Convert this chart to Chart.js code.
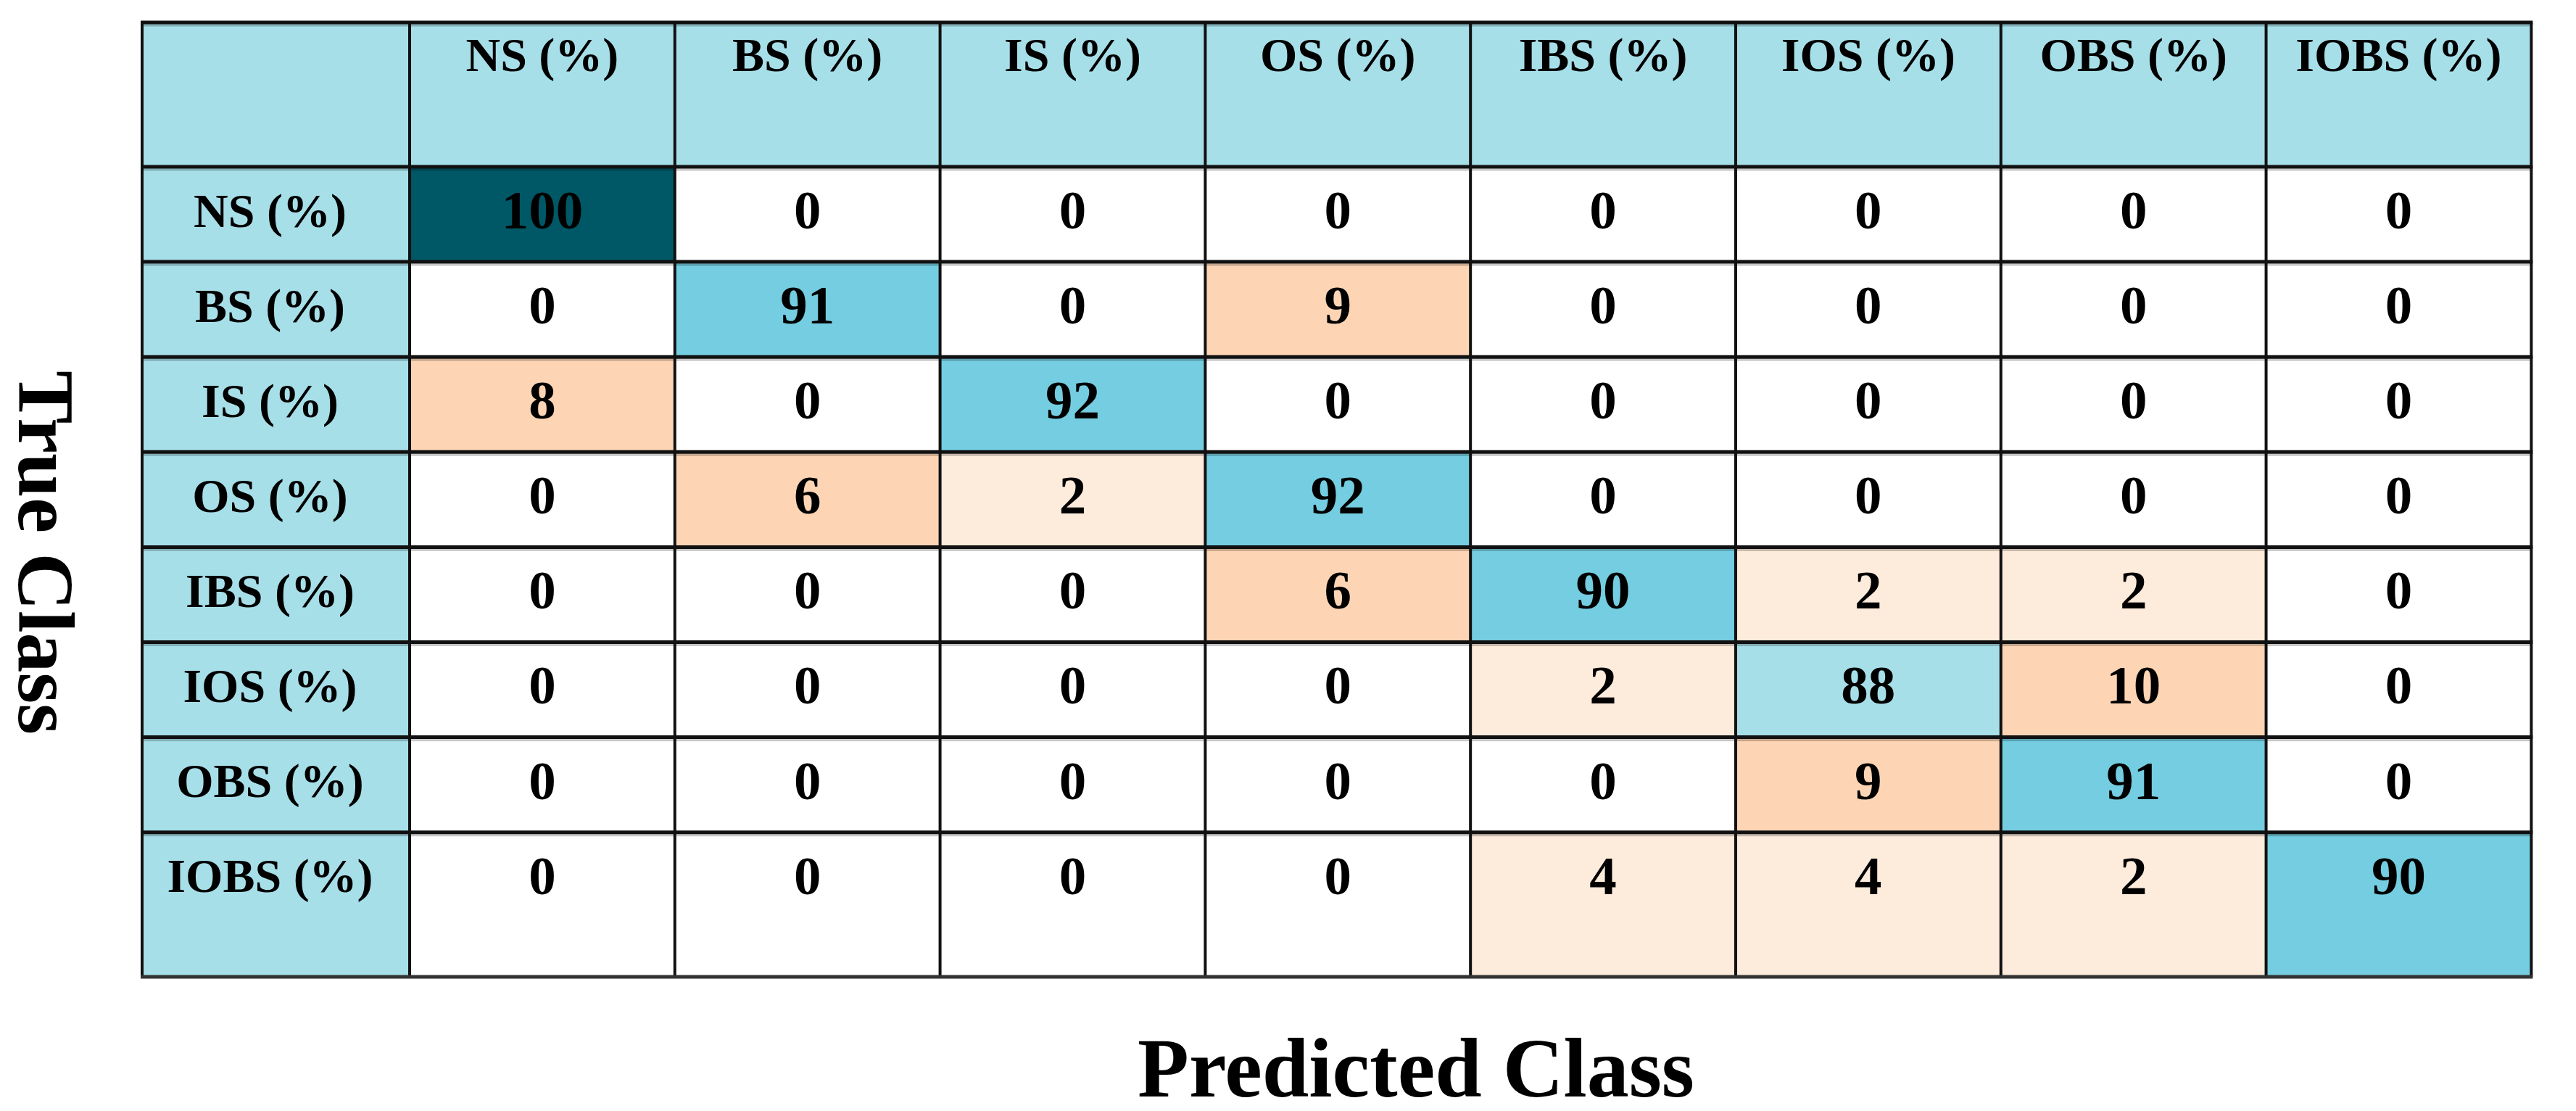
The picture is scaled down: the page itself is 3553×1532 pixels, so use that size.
<!DOCTYPE html>
<html>
<head>
<meta charset="utf-8">
<script src="https://cdn.jsdelivr.net/npm/chart.js@4.4.1/dist/chart.umd.min.js"></script>
<style>
  html, body { margin: 0; padding: 0; background: #fff; overflow: hidden; }
  #cmChart { display: block; width: 3553px; height: 1532px; }
</style>
</head>
<body>
<canvas id="cmChart" width="3553" height="1532"></canvas>
<script>
const predLabels = ['NS (%)', 'BS (%)', 'IS (%)', 'OS (%)', 'IBS (%)', 'IOS (%)', 'OBS (%)', 'IOBS (%)'];
const trueLabels = ['NS (%)', 'BS (%)', 'IS (%)', 'OS (%)', 'IBS (%)', 'IOS (%)', 'OBS (%)', 'IOBS (%)'];

// one row per true class, columns follow predLabels
const rowNS   = [100, 0, 0, 0, 0, 0, 0, 0];
const rowBS   = [0, 91, 0, 9, 0, 0, 0, 0];
const rowIS   = [8, 0, 92, 0, 0, 0, 0, 0];
const rowOS   = [0, 6, 2, 92, 0, 0, 0, 0];
const rowIBS  = [0, 0, 0, 6, 90, 2, 2, 0];
const rowIOS  = [0, 0, 0, 0, 2, 88, 10, 0];
const rowOBS  = [0, 0, 0, 0, 0, 9, 91, 0];
const rowIOBS = [0, 0, 0, 0, 4, 4, 2, 90];
const matrix = [rowNS, rowBS, rowIS, rowOS, rowIBS, rowIOS, rowOBS, rowIOBS];

const xTitle = 'Predicted Class';
const yTitle = 'True Class';

const FONT = '"Liberation Serif", "Times New Roman", serif';
const headFill = '#a7dfe9';
const labelColWidth = 369;
const headerHeight = 199;
const lastRowExtra = 0.52; // bottom row of the table is taller

function cellColor(v) {
    if (v === 0) return '#ffffff';
    if (v < 5) return '#fdebdb';
    if (v < 50) return '#fdd5b5';
    if (v < 90) return '#a7dfe9';
    if (v < 100) return '#74cde0';
    return '#005766';
}

// measure the widest row label so the ticks end up centred in the label column
const mctx = document.createElement('canvas').getContext('2d');
mctx.font = `bold 66px ${FONT}`;
const widest = Math.max(...trueLabels.map(t => mctx.measureText(t).width));

const cells = [];
matrix.forEach((row, r) => {
    row.forEach((v, c) => {
        const end = r === matrix.length - 1 ? r + 1 + lastRowExtra : r + 1;
        cells.push({ x: predLabels[c], y: [r, end], v: v });
    });
});

const tableFrame = {
    id: 'tableFrame',
    beforeDraw(chart) {
        const { ctx, chartArea: a, scales: { x, y } } = chart;
        ctx.save();
        ctx.fillStyle = headFill;
        ctx.fillRect(y.left, x.top, a.right - y.left, a.top - x.top);
        ctx.fillRect(y.left, a.top, a.left - y.left, a.bottom - a.top);
        ctx.restore();
    },
    afterDatasetsDraw(chart) {
        const { ctx, chartArea: a, scales: { x, y } } = chart;
        const half = (x.getPixelForValue(1) - x.getPixelForValue(0)) / 2;
        const ys = [x.top, ...matrix.map((_, r) => y.getPixelForValue(r)), a.bottom];
        const xs = [y.left, ...predLabels.map((_, i) => x.getPixelForValue(i) - half), a.right];
        ctx.save();

        // faint shadow under each row rule
        ctx.fillStyle = 'rgba(0,0,0,0.22)';
        ys.slice(0, -1).forEach(py => ctx.fillRect(y.left, py + 2.5, a.right - y.left, 3));

        ctx.strokeStyle = '#111';
        ctx.lineWidth = 4;
        xs.forEach(px => {
            ctx.beginPath();
            ctx.moveTo(px, x.top);
            ctx.lineTo(px, a.bottom);
            ctx.stroke();
        });

        ctx.lineWidth = 5;
        ys.forEach((py, i) => {
            ctx.strokeStyle = i === ys.length - 1 ? '#333' : '#111';
            ctx.beginPath();
            ctx.moveTo(y.left - 2, py);
            ctx.lineTo(a.right + 2, py);
            ctx.stroke();
        });

        ctx.fillStyle = '#000';
        ctx.font = `bold 75px ${FONT}`;
        ctx.textAlign = 'center';
        ctx.textBaseline = 'middle';
        matrix.forEach((row, r) => {
            row.forEach((v, c) => {
                ctx.fillText(String(v), x.getPixelForValue(c), y.getPixelForValue(r + 0.5));
            });
        });
        ctx.restore();
    },
    afterDraw(chart) {
        const { ctx } = chart;
        ctx.save();
        ctx.fillStyle = '#000';
        ctx.textAlign = 'center';
        ctx.textBaseline = 'alphabetic';
        ctx.font = `bold 116px ${FONT}`;
        ctx.fillText(xTitle, 1953, 1512);

        ctx.font = `bold 110px ${FONT}`;
        ctx.translate(26, 762);
        ctx.rotate(Math.PI / 2);
        ctx.fillText(yTitle, 0, 0);
        ctx.restore();
    }
};

const ctx = document.getElementById('cmChart').getContext('2d');

const cmChart = new Chart(ctx, {
    type: 'bar',
    data: {
        labels: predLabels,
        datasets: [{
            data: cells,
            backgroundColor: c => cellColor(c.raw ? c.raw.v : 0),
            borderWidth: 0,
            borderSkipped: false,
            barPercentage: 1,
            categoryPercentage: 1
        }]
    },
    options: {
        responsive: false,
        animation: false,
        devicePixelRatio: 1,
        events: [],
        layout: { padding: { left: 196, right: 23, top: 31, bottom: 185 } },
        plugins: {
            legend: { display: false },
            tooltip: { enabled: false }
        },
        scales: {
            x: {
                type: 'category',
                position: 'top',
                offset: true,
                grid: { display: false },
                border: { display: false },
                ticks: {
                    color: '#000',
                    font: { family: FONT, size: 66, weight: 'bold', lineHeight: 1.2 },
                    padding: 101,
                    autoSkip: false,
                    maxRotation: 0,
                    minRotation: 0
                },
                afterFit(s) { s.height = headerHeight; }
            },
            y: {
                type: 'linear',
                reverse: true,
                min: 0,
                max: matrix.length + lastRowExtra,
                grid: { display: false },
                border: { display: false },
                afterBuildTicks(s) {
                    s.ticks = trueLabels.map((_, i) => ({ value: i + 0.5 }));
                },
                ticks: {
                    color: '#000',
                    font: { family: FONT, size: 66, weight: 'bold', lineHeight: 1.2 },
                    crossAlign: 'center',
                    padding: labelColWidth / 2 - widest / 2,
                    autoSkip: false,
                    callback: (v, i) => trueLabels[i]
                },
                afterFit(s) { s.width = labelColWidth; }
            }
        }
    },
    plugins: [tableFrame]
});
</script>
</body>
</html>
